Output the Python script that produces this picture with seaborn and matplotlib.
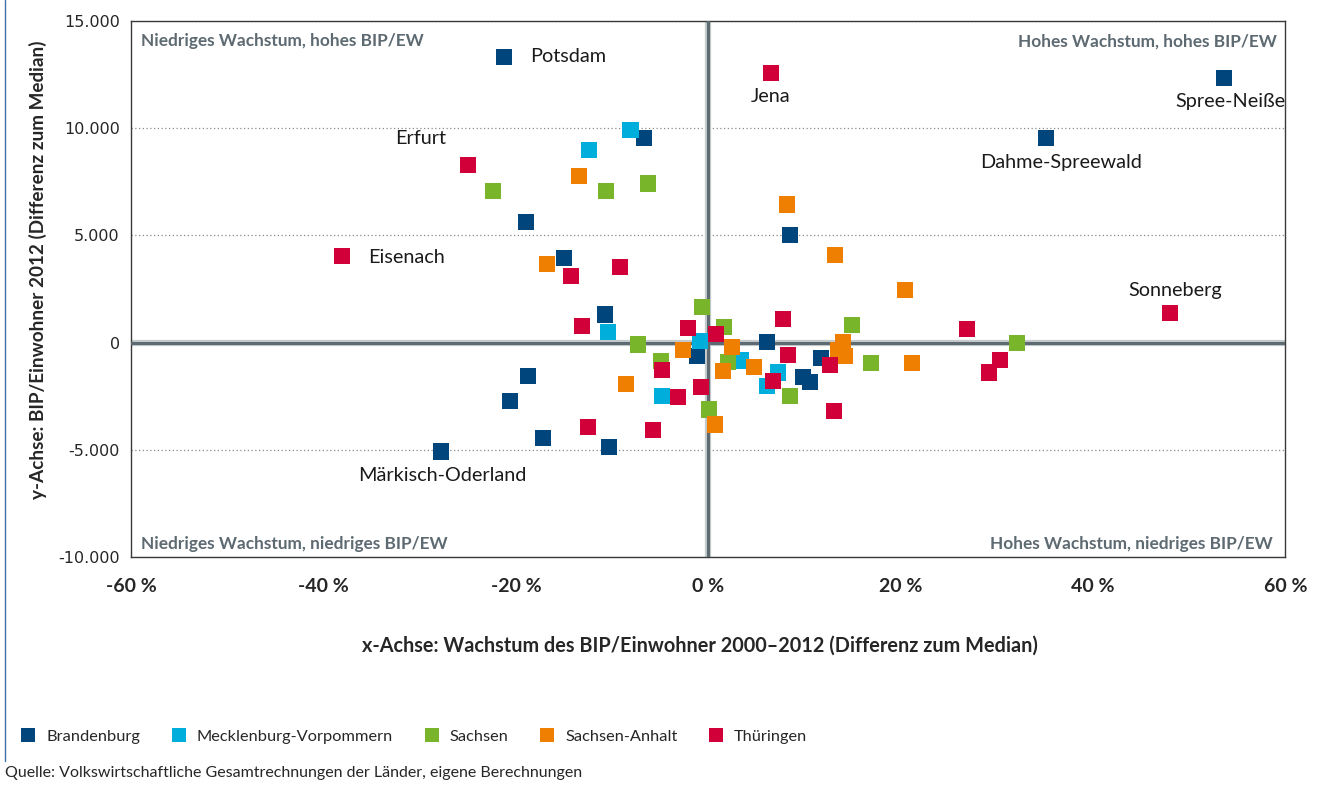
import numpy as np
import pandas as pd
import matplotlib
matplotlib.use('Agg')
import matplotlib.pyplot as plt
from matplotlib.lines import Line2D
import seaborn as sns

# ---- Daten ----
laender = ['Brandenburg', 'Mecklenburg-Vorpommern', 'Sachsen', 'Sachsen-Anhalt', 'Thüringen']
farben = ['#00457c', '#00aedb', '#78b52b', '#ee7f00', '#d20039']

bb_x = [-21.25, -6.68, -18.93, -15.0, -10.74, -1.17, -18.74, -20.61, -17.18, -10.33, -27.79,
        6.10, 8.49, 11.70, 9.81, 10.57, 35.10, 53.60]
bb_y = [13340, 9560, 5640, 3960, 1310, -610, -1540, -2740, -4460, -4880, -5080,
        10, 5040, -700, -1620, -1850, 9560, 12360]

mv_x = [-8.08, -12.41, -10.43, -0.86, -4.84, 3.40, 7.21, 6.07]
mv_y = [9930, 8970, 510, 60, -2470, -830, -1390, -2040]

sn_x = [-22.36, -10.63, -6.25, -0.69, -7.31, -4.92, 1.60, 2.02, 0.07, 8.46, 14.97, 16.91, 32.08]
sn_y = [7090, 7090, 7420, 1650, -90, -870, 710, -920, -3120, -2470, 810, -930, -10]

st_x = [-13.45, -16.76, -8.56, -2.66, 0.70, 2.43, 1.50, 4.72, 8.17, 13.18, 20.46, 13.53, 14.03, 14.21, 21.17]
st_y = [7790, 3680, -1910, -360, -3820, -220, -1340, -1150, 6440, 4100, 2470, -330, 10, -610, -930]

th_x = [-24.99, -38.08, -14.28, -9.19, -13.13, -2.14, -4.84, -3.18, -0.76, -12.51, -5.75,
        6.50, 0.80, 7.73, 8.25, 6.69, 12.65, 13.07, 26.90, 29.18, 30.32, 47.99]
th_y = [8300, 4060, 3120, 3540, 790, 670, -1260, -2550, -2080, -3950, -4060,
        12590, 410, 1120, -560, -1800, -1030, -3170, 650, -1390, -790, 1400]

namen = ['Potsdam', 'Märkisch-Oderland', 'Dahme-Spreewald', 'Spree-Neiße',
         'Erfurt', 'Eisenach', 'Jena', 'Sonneberg']

x_ticks = [-60, -40, -20, 0, 20, 40, 60]
y_ticks = [-10000, -5000, 0, 5000, 10000, 15000]

df = pd.concat([
    pd.DataFrame({'x': xs, 'y': ys, 'Land': land})
    for xs, ys, land in zip([bb_x, mv_x, sn_x, st_x, th_x], [bb_y, mv_y, sn_y, st_y, th_y], laender)
], ignore_index=True)

# Name -> (x, y, Offset in Pixel, ha)
punkte = {
    'Potsdam': (bb_x[0], bb_y[0], (26, 0), 'left'),
    'Märkisch-Oderland': (bb_x[10], bb_y[10], (1, -24), 'center'),
    'Dahme-Spreewald': (bb_x[16], bb_y[16], (15, -25), 'center'),
    'Spree-Neiße': (bb_x[17], bb_y[17], (6, -24), 'center'),
    'Erfurt': (th_x[0], th_y[0], (-47, 26), 'center'),
    'Eisenach': (th_x[1], th_y[1], (26, -2), 'left'),
    'Jena': (th_x[11], th_y[11], (0, -24), 'center'),
    'Sonneberg': (th_x[21], th_y[21], (5, 22), 'center'),
}

# ---- Grafik ----
sns.set_style('white')
plt.rcParams['font.family'] = ['Lato', 'DejaVu Sans']

fig = plt.figure(figsize=(13.19, 7.85), dpi=100)
ax = fig.add_axes([0.0993, 0.2904, 0.8753, 0.6828])

sns.scatterplot(data=df, x='x', y='y', hue='Land', hue_order=laender, palette=farben,
                marker='s', s=135, linewidth=0, alpha=1, ax=ax, zorder=5)

ax.set_xlim(-60, 60)
ax.set_ylim(-10000, 15000)
ax.set_xticks(x_ticks)
ax.set_yticks(y_ticks)
ax.set_xticklabels([f'{t} %' for t in x_ticks], fontsize=14, fontweight='bold')
ax.set_yticklabels([f'{t:,}'.replace(',', '.') for t in y_ticks], fontsize=11.5,
                   family='DejaVu Sans')
ax.tick_params(axis='both', length=0)
ax.tick_params(axis='x', pad=15)
ax.tick_params(axis='y', pad=8)
ax.set_xlabel('')
ax.set_ylabel('')

for sp in ax.spines.values():
    sp.set_color('#3a3a3a')
    sp.set_linewidth(1.0)

ax.grid(axis='y', linestyle=(0, (1, 2)), color='#8a8a8a', lw=0.9)
ax.grid(axis='x', visible=False)

# Nulllinien
ax.axhline(0, color='#c5cacd', lw=4.5, zorder=2)
ax.axhline(0, color='#5d6a72', lw=2.2, zorder=3)
ax.axvline(0, color='#c5cacd', lw=4.5, zorder=2)
ax.axvline(0, color='#5d6a72', lw=2.2, zorder=3)

# Quadranten-Texte
qk = dict(fontsize=12.4, fontweight='bold', color='#5d6a72', transform=ax.transAxes)
ax.text(0.009, 0.962, 'Niedriges Wachstum, hohes BIP/EW', ha='left', va='center', **qk)
ax.text(0.9925, 0.962, 'Hohes Wachstum, hohes BIP/EW', ha='right', va='center', **qk)
ax.text(0.009, 0.025, 'Niedriges Wachstum, niedriges BIP/EW', ha='left', va='center', **qk)
ax.text(0.989, 0.025, 'Hohes Wachstum, niedriges BIP/EW', ha='right', va='center', **qk)

# Namen
for name in namen:
    px, py, off, ha = punkte[name]
    ax.annotate(name, (px, py), xytext=(off[0] * 0.72, off[1] * 0.72), textcoords='offset points',
                ha=ha, va='center', fontsize=14.3, color='#1a1a1a', zorder=6)

# Achsentitel
fig.text(0.531, 0.178, 'x-Achse: Wachstum des BIP/Einwohner 2000–2012 (Differenz zum Median)',
         ha='center', va='center', fontsize=14.3, fontweight='bold')
fig.text(0.029, 0.656, 'y-Achse: BIP/Einwohner 2012 (Differenz zum Median)',
         ha='center', va='center', rotation=90, fontsize=13.6, fontweight='bold')

# Legende
sns.move_legend(ax, 'center left', bbox_to_anchor=(0.0153, 0.062), bbox_transform=fig.transFigure,
                ncol=5, frameon=False, title=None, fontsize=11.8, markerscale=0.88,
                borderpad=0, borderaxespad=0, handlelength=1.0, handletextpad=0.6,
                columnspacing=1.85)

fig.text(0.004, 0.015, 'Quelle: Volkswirtschaftliche Gesamtrechnungen der Länder, eigene Berechnungen',
         ha='left', va='center', fontsize=11.5)

# blaue Randlinie links
fig.add_artist(Line2D([0.004, 0.004], [0.03, 1.0], transform=fig.transFigure, color='#3f6fa8', lw=1))

plt.savefig('out.png', dpi=100)
